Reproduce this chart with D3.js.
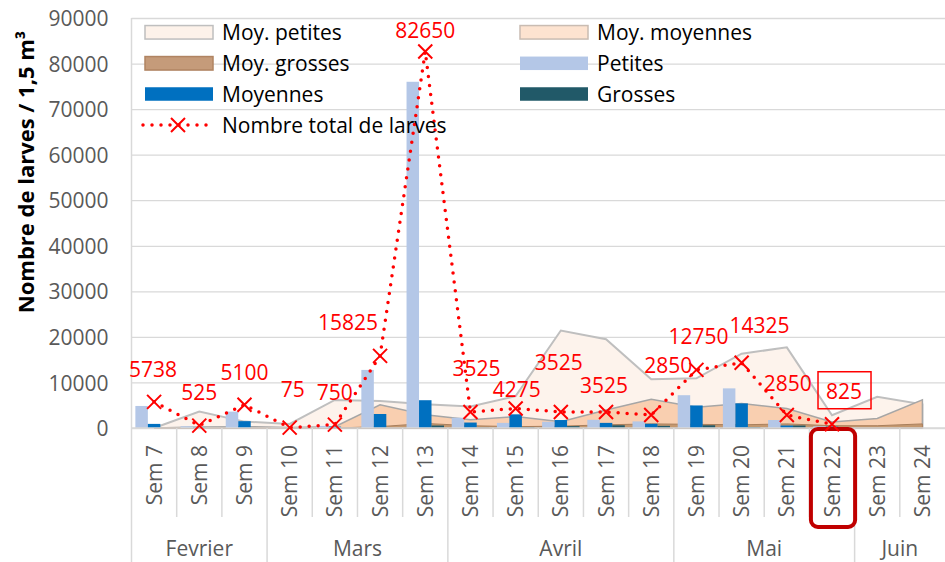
<!DOCTYPE html>
<html>
<head>
<meta charset="utf-8">
<script src="https://cdnjs.cloudflare.com/ajax/libs/d3/7.8.5/d3.min.js"></script>
<style>
    body { margin: 0; background: #fff; }
    svg text { font-family: "Open Sans", sans-serif; }
</style>
</head>
<body>
<div id="chart-area"></div>
<script>
/// data
var weeks = ["Sem 7", "Sem 8", "Sem 9", "Sem 10", "Sem 11", "Sem 12", "Sem 13", "Sem 14", "Sem 15",
    "Sem 16", "Sem 17", "Sem 18", "Sem 19", "Sem 20", "Sem 21", "Sem 22", "Sem 23", "Sem 24"];
var months = ["Fevrier", "Mars", "Avril", "Mai", "Juin"];
var monthWeeks = [3, 4, 5, 4, 2];

var moyPetites = [0, 3600, 1400, 900, 6150, 5900, 5200, 4700, 7000, 21400, 19500, 10700, 10900, 16300, 17700, 2800, 6870, 5200];
var moyMoyennes = [0, 200, 300, 100, 300, 5100, 2900, 1800, 2500, 1400, 3950, 6300, 4550, 5400, 4300, 1300, 2100, 6200];
var moyGrosses = [0, 0, 0, 0, 0, 300, 1000, 500, 300, 400, 700, 900, 800, 700, 900, 500, 500, 900];

var petites = [4838, 375, 3600, 75, 450, 12750, 76000, 2250, 1125, 1375, 1800, 1450, 7200, 8700, 1750, 375, null, null];
var moyennes = [900, 150, 1500, 0, 300, 3075, 6100, 1200, 3000, 1750, 1125, 925, 4950, 5400, 550, 300, null, null];
var grosses = [0, 0, 0, 0, 0, 0, 550, 75, 150, 400, 600, 475, 600, 225, 550, 150, null, null];
var total = [5738, 525, 5100, 75, 750, 15825, 82650, 3525, 4275, 3525, 3525, 2850, 12750, 14325, 2850, 825, null, null];

var yTicks = [0, 10000, 20000, 30000, 40000, 50000, 60000, 70000, 80000, 90000];

/// where each data label sits, relative to its marker
var labelOffsets = [[-1, -32], [0, -33], [0, -32], [3, -38], [0, -32], [-32, -33], [0, -21], [6, -44], [1, -19],
    [-2, -50], [-2, -27], [17, -50], [2, -33], [18, -37], [1, -32], [12, -33], [0, 0], [0, 0]];

var W = 945, H = 562;
var plotL = 131.5, plotR = 945, plotT = 18, plotB = 428;

var svg = d3.select("#chart-area")
    .append("svg")
    .attr("width", W)
    .attr("height", H);

var x = d3.scaleBand()
    .domain(weeks)
    .range([plotL, plotR])
    .padding(0);

var inner = d3.scaleBand()
    .domain(["petites", "moyennes", "grosses"])
    .range([0, x.bandwidth()])
    .paddingInner(0)
    .paddingOuter(0.31);

var y = d3.scaleLinear()
    .domain([0, 90000])
    .range([plotB, plotT]);

function cx(i) { return x(weeks[i]) + x.bandwidth() / 2; }

/// gridlines
svg.append("g")
    .attr("transform", "translate(" + plotL + ",0)")
    .call(d3.axisLeft(y).tickValues(yTicks).tickSize(-(plotR - plotL)).tickFormat(""))
    .call(g => g.select(".domain").remove())
    .selectAll("line")
        .attr("stroke", "#d9d9d9")
        .attr("stroke-width", 1.3);

/// y tick labels
svg.append("g")
    .attr("transform", "translate(" + plotL + ",0)")
    .call(d3.axisLeft(y).tickValues(yTicks).tickSize(0).tickPadding(23).tickFormat(d3.format("d")))
    .call(g => g.select(".domain").remove())
    .selectAll("text")
        .attr("font-family", "Open Sans")
        .attr("font-size", "21px")
        .attr("fill", "#595959")
        .attr("dy", "0.36em");

/// areas
var area = d3.area()
    .x((d, i) => cx(i))
    .y0(y(0))
    .y1(d => y(d));

svg.append("path").datum(moyPetites)
    .attr("d", area)
    .attr("fill", "#fdf3ec")
    .attr("stroke", "#bfbfbf")
    .attr("stroke-width", 2);
svg.append("path").datum(moyMoyennes)
    .attr("d", area)
    .attr("fill", "#f9cfb0")
    .attr("stroke", "#a6a6a6")
    .attr("stroke-width", 1.5);
svg.append("path").datum(moyGrosses)
    .attr("d", area)
    .attr("fill", "#c4986f")
    .attr("stroke", "#a97f5c")
    .attr("stroke-width", 1);

/// bars
var barSeries = [
    { key: "petites", values: petites, color: "#b4c7e7" },
    { key: "moyennes", values: moyennes, color: "#0070c0" },
    { key: "grosses", values: grosses, color: "#215968" }
];
barSeries.forEach(function (s) {
    svg.append("g").selectAll("rect")
        .data(s.values.map((v, i) => ({ v: v, i: i })).filter(d => d.v != null && d.v > 0))
        .enter()
        .append("rect")
        .attr("x", d => x(weeks[d.i]) + inner(s.key))
        .attr("width", inner.bandwidth())
        .attr("y", d => y(d.v))
        .attr("height", d => y(0) - y(d.v))
        .attr("fill", s.color);
});

/// x axis line + separators
svg.append("line")
    .attr("x1", plotL).attr("x2", plotR)
    .attr("y1", plotB).attr("y2", plotB)
    .attr("stroke", "#d9d9d9").attr("stroke-width", 1.5);

var monthEnds = [0];
monthWeeks.forEach(function (n, i) { monthEnds.push(monthEnds[i] + n); });

svg.append("g").selectAll("line")
    .data(d3.range(0, weeks.length))
    .enter()
    .append("line")
    .attr("x1", d => x(weeks[d]))
    .attr("x2", d => x(weeks[d]))
    .attr("y1", d => d == 0 ? plotT : plotB)
    .attr("y2", d => monthEnds.indexOf(d) >= 0 ? H : 517)
    .attr("stroke", "#d9d9d9")
    .attr("stroke-width", 1.5);

/// category labels
svg.append("g")
    .attr("transform", "translate(0," + plotB + ")")
    .call(d3.axisBottom(x).tickSize(0))
    .call(g => g.select(".domain").remove())
    .selectAll("text")
        .attr("font-family", "Open Sans")
        .attr("font-size", "21px")
        .attr("fill", "#595959")
        .attr("text-anchor", "end")
        .attr("y", 0)
        .attr("dy", "0.36em")
        .attr("transform", "translate(0,17) rotate(-90)");

/// month labels
svg.append("g").selectAll("text")
    .data(months)
    .enter()
    .append("text")
    .attr("x", (d, i) => (x(weeks[monthEnds[i]]) + x(weeks[monthEnds[i + 1] - 1]) + x.bandwidth()) / 2)
    .attr("y", 548)
    .attr("dy", "0.36em")
    .attr("text-anchor", "middle")
    .attr("font-size", "21px")
    .attr("fill", "#595959")
    .text(d => d);

/// highlight box on Sem 22
svg.append("rect")
    .attr("x", x("Sem 22") + 1.5)
    .attr("y", plotB + 1)
    .attr("width", x.bandwidth() - 1)
    .attr("height", 98)
    .attr("rx", 7)
    .attr("fill", "none")
    .attr("stroke", "#c00000")
    .attr("stroke-width", 4);

/// total line
var pts = total.map((v, i) => ({ v: v, i: i }));
var line = d3.line()
    .defined(d => d.v != null)
    .x(d => cx(d.i))
    .y(d => y(d.v));

svg.append("path").datum(pts)
    .attr("d", line)
    .attr("fill", "none")
    .attr("stroke", "#ff0000")
    .attr("stroke-width", 3.5)
    .attr("stroke-linecap", "round")
    .attr("stroke-dasharray", "0 9");

var cross = "M-7,-7L7,7M-7,7L7,-7";
svg.append("g").selectAll("path")
    .data(pts.filter(d => d.v != null))
    .enter()
    .append("path")
    .attr("transform", d => "translate(" + cx(d.i) + "," + y(d.v) + ")")
    .attr("d", cross)
    .attr("stroke", "#ff0000")
    .attr("stroke-width", 2)
    .attr("fill", "none");

/// data labels
svg.append("g").selectAll("text")
    .data(pts.filter(d => d.v != null))
    .enter()
    .append("text")
    .attr("x", d => cx(d.i) + labelOffsets[d.i][0])
    .attr("y", d => y(d.v) + labelOffsets[d.i][1])
    .attr("dy", "0.36em")
    .attr("text-anchor", "middle")
    .attr("font-size", "21px")
    .attr("fill", "#ff0000")
    .text(d => d.v);

/// box around the 825 label
var last = 15;
svg.append("rect")
    .attr("x", cx(last) + labelOffsets[last][0] - 26)
    .attr("y", y(total[last]) + labelOffsets[last][1] - 19.5)
    .attr("width", 53)
    .attr("height", 37)
    .attr("fill", "none")
    .attr("stroke", "#ff0000")
    .attr("stroke-width", 1.5);

/// y label
svg.append("text")
    .attr("transform", "translate(26,172) rotate(-90)")
    .attr("text-anchor", "middle")
    .attr("dy", "0.36em")
    .attr("font-size", "22px")
    .attr("font-weight", "bold")
    .attr("fill", "#000")
    .text("Nombre de larves / 1,5 m³");

/// legend
var legendItems = [
    { name: "Moy. petites", fill: "#fdf2ea", stroke: "#bfbfbf" },
    { name: "Moy. moyennes", fill: "#fde3d0", stroke: "#c9bcb2" },
    { name: "Moy. grosses", fill: "#c59b7a", stroke: "#b08462" },
    { name: "Petites", fill: "#b4c7e7", stroke: "none" },
    { name: "Moyennes", fill: "#0070c0", stroke: "none" },
    { name: "Grosses", fill: "#215968", stroke: "none" },
    { name: "Nombre total de larves", line: true }
];
var colX = [145, 520], rowY = [32.3, 63.3, 94, 125];

legendItems.forEach(function (d, i) {
    var gx = colX[i % 2], gy = rowY[Math.floor(i / 2)];
    var g = svg.append("g").attr("transform", "translate(" + gx + "," + gy + ")");
    if (d.line) {
        g.append("line")
            .attr("x1", -2).attr("x2", 68)
            .attr("stroke", "#ff0000")
            .attr("stroke-width", 3.5)
            .attr("stroke-linecap", "round")
            .attr("stroke-dasharray", "0 9");
        g.append("path")
            .attr("transform", "translate(33,0)")
            .attr("d", cross)
            .attr("stroke", "#ff0000")
            .attr("stroke-width", 2)
            .attr("fill", "none");
    } else {
        g.append("rect")
            .attr("x", 0).attr("y", -6.75)
            .attr("width", 68).attr("height", 13.5)
            .attr("fill", d.fill)
            .attr("stroke", d.stroke)
            .attr("stroke-width", 1.5);
    }
    g.append("text")
        .attr("x", 77)
        .attr("dy", "0.36em")
        .attr("font-size", "21px")
        .attr("fill", "#000")
        .text(d.name);
});
</script>
</body>
</html>
